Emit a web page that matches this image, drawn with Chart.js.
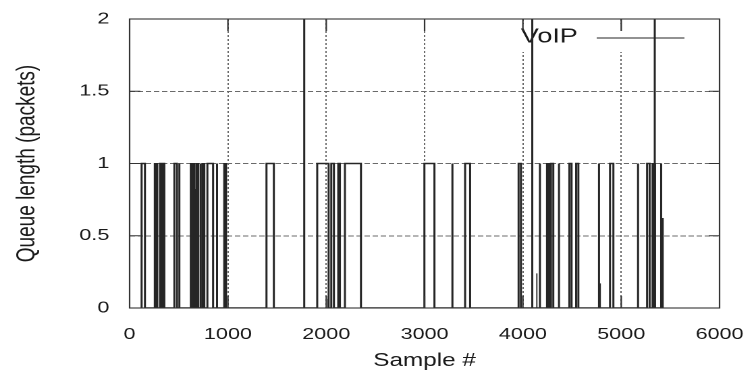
<!DOCTYPE html>
<html>
<head>
<meta charset="utf-8">
<script src="https://cdn.jsdelivr.net/npm/chart.js@4/dist/chart.umd.min.js"></script>
<style>
  html, body { margin: 0; padding: 0; background: #fff; overflow: hidden; }
  /* the source figure is stretched horizontally; draw narrow and scale the canvas */
  #wrap { width: 560px; height: 373px; transform: scaleX(1.35); transform-origin: 0 0; }
</style>
</head>
<body>
<div id="wrap"><canvas id="chart" width="560" height="373"></canvas></div>
<script>
// ── Data (sample #, queue length) ────────────────────────────────────────────
// single-outline pulses: queue rises at start, stays, drops at end
const pulseStart  = [122, 309, 336, 455, 506, 723, 791, 889, 1392, 1776, 1908, 2051, 2122, 2190, 2998, 3283, 3412, 3956, 4095, 4173, 4285, 4367, 4472, 4541, 4774, 4886, 5171, 5263, 5341, 5406];
const pulseEnd    = [156, 325, 353, 482, 506, 723, 849, 889, 1467, 1776, 2024, 2078, 2139, 2353, 3100, 3283, 3463, 3980, 4095, 4173, 4309, 4367, 4495, 4564, 4774, 4920, 5171, 5289, 5341, 5406];
const pulseHeight = [1, 1, 1, 1, 1, 1, 1, 1, 1, 2, 1, 1, 1, 1, 1, 1, 1, 1, 2, 1, 1, 1, 1, 1, 1, 1, 1, 1, 2, 1];

// dense bursts that print as solid black blocks
const burstStart  = [252, 618, 662, 676, 736, 958, 2018, 4139, 4241, 4784, 5314, 5410];
const burstEnd    = [285, 662, 676, 703, 764, 985, 2024, 4143, 4285, 4788, 5348, 5426];
const burstHeight = [1, 1, 0.82, 1, 1, 1, 0.06, 0.24, 1, 0.17, 1, 0.62];

const xTickValues = [0, 1000, 2000, 3000, 4000, 5000, 6000];
const xTickLabels = ['0', '1000', '2000', '3000', '4000', '5000', '6000'];
const yTickValues = [0, 0.5, 1, 1.5, 2];
const yTickLabels = ['0', '0.5', '1', '1.5', '2'];

const seriesName = 'VoIP';
const INK = '#262626';
const FONT = '"Liberation Sans", Arial, Helvetica, sans-serif';

function stepPoints(starts, ends, heights) {
  const pts = [];
  starts.forEach((s, i) => {
    pts.push({ x: s, y: 0 }, { x: s, y: heights[i] }, { x: ends[i], y: heights[i] }, { x: ends[i], y: 0 });
  });
  return pts;
}

// keep the plot box where the figure has it, not where label overhang pushes it
function noOverhang(s) {
  s.paddingTop = 0; s.paddingBottom = 0; s.paddingLeft = 0; s.paddingRight = 0;
}

// gnuplot-ish frame with inward ticks
const framePlugin = {
  id: 'frame',
  afterDatasetsDraw(chart) {
    const { ctx, chartArea: a, scales: { x, y } } = chart;
    ctx.save();
    ctx.strokeStyle = '#333';
    ctx.lineWidth = 1.1;
    ctx.beginPath();
    xTickValues.slice(1, -1).forEach((v) => {
      const px = x.getPixelForValue(v);
      ctx.moveTo(px, a.bottom); ctx.lineTo(px, a.bottom - 12);
      ctx.moveTo(px, a.top); ctx.lineTo(px, a.top + 12);
    });
    yTickValues.slice(1, -1).forEach((v) => {
      const py = y.getPixelForValue(v);
      ctx.moveTo(a.left, py); ctx.lineTo(a.left + 8, py);
      ctx.moveTo(a.right, py); ctx.lineTo(a.right - 8, py);
    });
    ctx.stroke();
    ctx.strokeRect(a.left, a.top, a.right - a.left, a.bottom - a.top);
    ctx.restore();
  },
};

// key sits inside the plot, top right, over the grid but under the data
const keyPlugin = {
  id: 'key',
  beforeDatasetsDraw(chart) {
    const { ctx, chartArea: a } = chart;
    ctx.save();
    ctx.fillStyle = '#fff';
    ctx.fillRect(a.right - 162, a.top + 5, 141, 28);
    ctx.fillStyle = '#1a1a1a';
    ctx.font = `20px ${FONT}`;
    ctx.textAlign = 'right';
    ctx.textBaseline = 'middle';
    ctx.fillText(seriesName, a.right - 105, a.top + 18);
    ctx.strokeStyle = INK;
    ctx.lineWidth = 1;
    ctx.beginPath();
    ctx.moveTo(a.right - 91, a.top + 19);
    ctx.lineTo(a.right - 26, a.top + 19);
    ctx.stroke();
    ctx.restore();
  },
};

new Chart(document.getElementById('chart'), {
  type: 'line',
  data: {
    datasets: [
      { label: seriesName + ' bursts', data: stepPoints(burstStart, burstEnd, burstHeight),
        borderColor: INK, backgroundColor: INK, borderWidth: 0.9, fill: 'origin', pointRadius: 0, tension: 0 },
      { label: seriesName, data: stepPoints(pulseStart, pulseEnd, pulseHeight),
        borderColor: INK, borderWidth: 1.5, fill: false, pointRadius: 0, tension: 0 },
    ],
  },
  options: {
    responsive: false,
    animation: false,
    devicePixelRatio: 2,
    layout: { padding: { left: 0, right: 27, top: 19, bottom: 0 } },
    plugins: { legend: { display: false }, tooltip: { enabled: false } },
    scales: {
      x: {
        type: 'linear', min: 0, max: 6000,
        afterBuildTicks: (s) => { s.ticks = xTickValues.map((v) => ({ value: v })); },
        afterFit: (s) => { s.height = 65; noOverhang(s); },
        ticks: { callback: (v, i) => xTickLabels[i], color: '#1a1a1a', font: { family: FONT, size: 16 }, padding: 17, maxRotation: 0 },
        grid: { color: '#6a6a6a', lineWidth: 1, drawTicks: false },
        border: { display: false, dash: [2, 2] },
        title: { display: true, text: 'Sample #', color: '#1a1a1a', font: { family: FONT, size: 18 }, padding: { top: 0, bottom: 1 } },
      },
      y: {
        min: 0, max: 2,
        afterBuildTicks: (s) => { s.ticks = yTickValues.map((v) => ({ value: v })); },
        afterFit: (s) => { s.width = 96; noOverhang(s); },
        ticks: { callback: (v, i) => yTickLabels[i], color: '#1a1a1a', font: { family: FONT, size: 16 }, padding: 15 },
        grid: { color: '#6a6a6a', lineWidth: 1, drawTicks: false },
        border: { display: false, dash: [4, 2] },
        title: { display: true, text: 'Queue length (packets)', color: '#1a1a1a', font: { family: FONT, size: 19 }, padding: { top: 9, bottom: 0 } },
      },
    },
  },
  plugins: [keyPlugin, framePlugin],
});
</script>
</body>
</html>
